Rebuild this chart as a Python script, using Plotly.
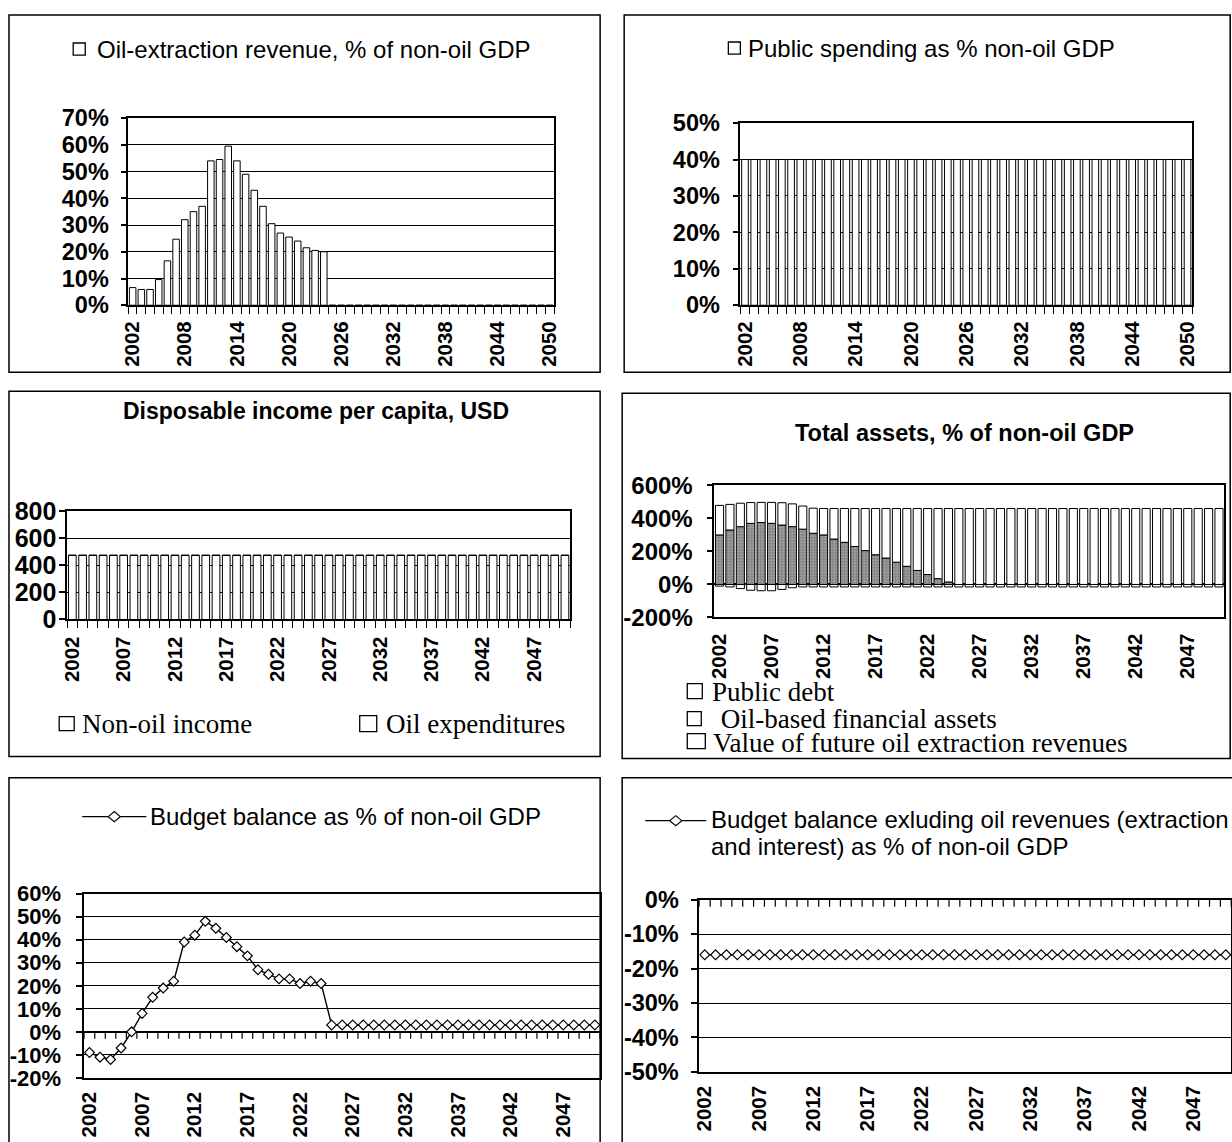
import plotly.graph_objects as go

# ---------------------------------------------------------------- page geometry
# Layout positions below are given in screen pixels; SCREEN_* maps them onto the
# figure (the page shows the figure scaled slightly and inset by the body margin).
SCREEN_SX, SCREEN_SY = 0.987, 0.975
SCREEN_CX, SCREEN_CY = 7.9, 14.0
FW, FH = 1240, 1157

# ---------------------------------------------------------------- data
years = list(range(2002, 2051))

oil_revenue_pct = [6.6, 5.9, 5.9, 9.6, 16.6, 24.7, 32.0, 35.0, 37.0, 54.0, 54.5, 59.5,
                   54.0, 49.0, 43.0, 37.0, 30.5, 27.0, 25.5, 24.0, 21.5, 20.5, 20.0,
                   0, 0, 0, 0, 0, 0, 0, 0, 0, 0, 0, 0, 0,
                   0, 0, 0, 0, 0, 0, 0, 0, 0, 0, 0, 0, 0]

public_spending_pct = [40, 40, 40, 40, 40, 40, 40, 40, 40, 40, 40, 40, 40, 40, 40, 40, 40,
                       40, 40, 40, 40, 40, 40, 40, 40, 40, 40, 40, 40, 40, 40, 40, 40,
                       40, 40, 40, 40, 40, 40, 40, 40, 40, 40, 40, 40, 40, 40, 40, 40]

income_non_oil = [475, 475, 475, 475, 475, 475, 475, 475, 475, 475, 475, 475, 475, 475, 475, 475, 475,
                  475, 475, 475, 475, 475, 475, 475, 475, 475, 475, 475, 475, 475, 475, 475, 475,
                  475, 475, 475, 475, 475, 475, 475, 475, 475, 475, 475, 475, 475, 475, 475, 475]

income_oil_exp = [0, 0, 0, 0, 0, 0, 0, 0, 0, 0, 0, 0, 0, 0, 0, 0, 0,
                  0, 0, 0, 0, 0, 0, 0, 0, 0, 0, 0, 0, 0, 0, 0, 0,
                  0, 0, 0, 0, 0, 0, 0, 0, 0, 0, 0, 0, 0, 0, 0, 0]

public_debt_pct = [-10, -15, -25, -35, -38, -38, -30, -20, -15, -15, -15, -15, -15, -15, -15, -15, -15,
                   -15, -15, -15, -15, -15, -15, -15, -15, -15, -15, -15, -15, -15, -15, -15, -15,
                   -15, -15, -15, -15, -15, -15, -15, -15, -15, -15, -15, -15, -15, -15, -15, -15]

future_oil_value_pct = [300, 330, 350, 370, 375, 370, 360, 350, 335, 310, 300, 275, 255, 230, 205, 180,
                        160, 135, 110, 85, 60, 35, 15,
                        0, 0, 0, 0, 0, 0, 0, 0, 0, 0, 0, 0, 0,
                        0, 0, 0, 0, 0, 0, 0, 0, 0, 0, 0, 0, 0]

oil_fin_assets_pct = [179, 155, 142, 126, 122, 127, 135, 138, 140, 152, 160, 185, 205, 230, 255, 280,
                      300, 325, 350, 375, 400, 425, 445,
                      460, 460, 460, 460, 460, 460, 460, 460, 460, 460, 460, 460, 460,
                      460, 460, 460, 460, 460, 460, 460, 460, 460, 460, 460, 460, 460]

budget_balance_pct = [-9, -11, -12, -7, 0, 8, 15, 19, 22, 39, 42, 48, 45, 41, 37, 33, 27, 25, 23, 23,
                      21, 22, 21,
                      3, 3, 3, 3, 3, 3, 3, 3, 3, 3, 3, 3, 3,
                      3, 3, 3, 3, 3, 3, 3, 3, 3, 3, 3, 3, 3]

budget_ex_oil_pct = [-16, -16, -16, -16, -16, -16, -16, -16, -16, -16, -16, -16, -16, -16, -16, -16, -16,
                     -16, -16, -16, -16, -16, -16, -16, -16, -16, -16, -16, -16, -16, -16, -16, -16,
                     -16, -16, -16, -16, -16, -16, -16, -16, -16, -16, -16, -16, -16, -16, -16, -16]

ticks_oil = [0, 10, 20, 30, 40, 50, 60, 70]
ticks_spend = [0, 10, 20, 30, 40, 50]
ticks_income = [0, 200, 400, 600, 800]
ticks_assets = [-200, 0, 200, 400, 600]
ticks_balance = [-20, -10, 0, 10, 20, 30, 40, 50, 60]
ticks_ex_oil = [-50, -40, -30, -20, -10, 0]

# ---------------------------------------------------------------- geometry helpers
SANS = "Liberation Sans"
SERIF = "Liberation Serif"


def px(x):
    # screen pixel -> paper fraction
    return (x - SCREEN_CX) / SCREEN_SX / FW


def py(y):
    return 1 - (y - SCREEN_CY) / SCREEN_SY / FH


def clamp(v, lo=0.0, hi=1.0):
    return max(lo, min(hi, v))


def dom_x(l, r):
    return [clamp(px(l)), clamp(px(r))]


def dom_y(t, b):
    return [clamp(py(b)), clamp(py(t))]


# plot areas (left, top, right, bottom) in screen pixels
boxes = {
    1: (128, 118, 553, 305),
    2: (739, 123, 1190, 305),
    3: (67, 511, 569, 619),
    4: (713, 485, 1222, 617),
    5: (84, 893, 599, 1077),
    6: (698, 899, 1229, 1071),
}

YEAR_RANGE = [2001.5, 2050.5]
tickfont_x = dict(family=SANS, size=20.5, color="black", weight="bold")


def yfont(size):
    return dict(family=SANS, size=size, color="black", weight="bold")


def pct(vals):
    return [f"{v}%" for v in vals]


def y_axis(n, rng, vals, text, standoff, size, grid=True):
    l, t, r, b = boxes[n]
    return dict(domain=dom_y(t, b), anchor=f"x{n}" if n > 1 else "x", range=rng,
                tickmode="array", tickvals=vals, ticktext=text,
                ticks="outside", ticklen=6, tickwidth=1.5, tickcolor="black",
                showline=True, linecolor="black", linewidth=1.6, mirror=True,
                showgrid=grid, gridcolor="black", gridwidth=1,
                zeroline=False, tickfont=yfont(size),
                ticklabelstandoff=standoff, fixedrange=True)


def x_axis(n, dtick, standoff, minor_ticks=True):
    l, t, r, b = boxes[n]
    ax = dict(domain=dom_x(l, r), anchor=f"y{n}" if n > 1 else "y", range=YEAR_RANGE,
              tickmode="linear", tick0=2002, dtick=dtick, ticks="", tickangle=-90,
              showline=True, linecolor="black", linewidth=1.6, mirror=True,
              showgrid=False, zeroline=False, tickfont=tickfont_x,
              ticklabelstandoff=standoff, fixedrange=True)
    if minor_ticks:
        ax["minor"] = dict(tick0=2001.5, dtick=1, ticks="outside", ticklen=7,
                           tickwidth=1.2, tickcolor="black", showgrid=False)
    return ax


white_bar = dict(color="white", line=dict(color="black", width=1))

fig = go.Figure()

# 1 - oil-extraction revenue
fig.add_trace(go.Bar(x=years, y=oil_revenue_pct, width=0.75, marker=white_bar,
                     xaxis="x", yaxis="y", name="Oil-extraction revenue, % of non-oil GDP"))

# 2 - public spending
fig.add_trace(go.Bar(x=years, y=public_spending_pct, width=0.72, marker=white_bar,
                     xaxis="x2", yaxis="y2", name="Public spending as % non-oil GDP"))

# 3 - disposable income per capita (stacked)
fig.add_trace(go.Bar(x=years, y=income_non_oil, width=0.75, marker=white_bar,
                     xaxis="x3", yaxis="y3", name="Non-oil income"))
fig.add_trace(go.Bar(x=years, y=income_oil_exp, width=0.75, marker=white_bar,
                     xaxis="x3", yaxis="y3", name="Oil expenditures"))

# 4 - total assets (stacked)
fig.add_trace(go.Bar(x=years, y=public_debt_pct, width=0.78, marker=white_bar,
                     xaxis="x4", yaxis="y4", name="Public debt"))
fig.add_trace(go.Bar(x=years, y=future_oil_value_pct, width=0.78,
                     marker=dict(color="white", line=dict(color="black", width=1),
                                 pattern=dict(shape=".", fgcolor="black", bgcolor="white",
                                              size=3, solidity=0.8)),
                     xaxis="x4", yaxis="y4", name="Value of future oil extraction revenues"))
fig.add_trace(go.Bar(x=years, y=oil_fin_assets_pct, width=0.78, marker=white_bar,
                     xaxis="x4", yaxis="y4", name="Oil-based financial assets"))

# 5 / 6 - budget balance lines
diamond = dict(symbol="diamond", size=7.5, color="white", line=dict(color="black", width=1.2))
fig.add_trace(go.Scatter(x=years, y=budget_balance_pct, mode="lines+markers",
                         line=dict(color="black", width=1.4), marker=diamond,
                         xaxis="x5", yaxis="y5", name="Budget balance as % of non-oil GDP"))
fig.add_trace(go.Scatter(x=years, y=budget_ex_oil_pct, mode="lines+markers",
                         line=dict(color="black", width=1.4), marker=diamond,
                         xaxis="x6", yaxis="y6",
                         name="Budget balance exluding oil revenues (extraction and interest) as % of non-oil GDP"))

fig.update_layout(
    xaxis=x_axis(1, 6, standoff=6),
    yaxis=y_axis(1, [0, 70], ticks_oil, pct(ticks_oil), standoff=7, size=23.5),
    xaxis2=x_axis(2, 6, standoff=6),
    yaxis2=y_axis(2, [0, 50], ticks_spend, pct(ticks_spend), standoff=8, size=23.5),
    xaxis3=x_axis(3, 5, standoff=7),
    yaxis3=y_axis(3, [0, 800], ticks_income, [str(v) for v in ticks_income], standoff=-2, size=25),
    xaxis4=x_axis(4, 5, standoff=6, minor_ticks=False),
    yaxis4=y_axis(4, [-200, 600], ticks_assets, pct(ticks_assets), standoff=9, size=24, grid=False),
    xaxis5=x_axis(5, 5, standoff=4, minor_ticks=False),
    yaxis5=y_axis(5, [-20, 60], ticks_balance, pct(ticks_balance), standoff=11, size=22),
    xaxis6=x_axis(6, 5, standoff=4, minor_ticks=False),
    yaxis6=y_axis(6, [-50, 0], ticks_ex_oil, pct(ticks_ex_oil), standoff=8, size=23.5),
)
fig.update_layout(yaxis4=dict(zeroline=True, zerolinecolor="black", zerolinewidth=1.5),
                  yaxis5=dict(zeroline=True, zerolinecolor="black", zerolinewidth=1.5))

# ---------------------------------------------------------------- frames, legend keys, titles
shapes = []

# category-boundary tick marks hanging from the zero line of the line charts
bounds = [y - 0.5 for y in years] + [years[-1] + 0.5]
for xr, yr in (("x5", "y5"), ("x6", "y6")):
    for b in bounds:
        shapes.append(dict(type="line", xref=xr, yref=yr, x0=b, x1=b,
                           ysizemode="pixel", yanchor=0, y0=0, y1=-7,
                           line=dict(color="black", width=1.2), layer="above"))


def rect(l, t, r, b, w=1.5, fill=None, open_end=False):
    ex, ey = 1 / FW, 1 / FH
    x0, x1 = clamp(px(l), ex, 1 - ex), px(r)
    y1 = clamp(py(t), ey, 1 - ey)
    y0 = py(b)
    if not open_end:
        x1 = clamp(x1, ex, 1 - ex)
        y0 = clamp(y0, ey, 1 - ey)
    shapes.append(dict(type="rect", xref="paper", yref="paper", x0=x0, x1=x1, y0=y0, y1=y1,
                       line=dict(color="black", width=w),
                       fillcolor=fill or "rgba(0,0,0,0)", layer="above"))


# chart frames (the lower pair runs on past the bottom edge)
rect(7, 3, 599, 372)
rect(623, 3, 1228, 372)
rect(7, 391, 599, 756)
rect(621, 393, 1228, 758)
rect(7, 777, 599, 1300, open_end=True)
rect(621, 777, 1400, 1300, open_end=True)

# bar legend keys
rect(73, 43, 85, 55, w=1.3, fill="white")
rect(727, 42, 739, 54, w=1.3, fill="white")
rect(59, 716, 74, 730, w=1.3, fill="white")
rect(359, 715, 376, 731, w=1.3, fill="white")
rect(686, 683, 701, 698, w=1.3, fill="white")
rect(686, 711, 700, 725, w=1.3, fill="white")
rect(686, 733, 704, 748, w=1.3, fill="white")


def line_key(x0, x1, y):
    shapes.append(dict(type="line", xref="paper", yref="paper", x0=px(x0), x1=px(x1),
                       y0=py(y), y1=py(y), line=dict(color="black", width=1.4), layer="above"))
    cx = (x0 + x1) / 2
    path = (f"M {px(cx - 6)},{py(y)} L {px(cx)},{py(y - 5)} L {px(cx + 6)},{py(y)} "
            f"L {px(cx)},{py(y + 5)} Z")
    shapes.append(dict(type="path", xref="paper", yref="paper", path=path,
                       line=dict(color="black", width=1.2), fillcolor="white", layer="above"))


line_key(82, 146, 816)
line_key(644, 705, 820)

annotations = []


def label(text, x, y, size=24, family=SANS, anchor="left", bold=False):
    annotations.append(dict(text=text, xref="paper", yref="paper", x=px(x), y=py(y),
                            xanchor=anchor, yanchor="middle", showarrow=False,
                            font=dict(family=family, size=size, color="black",
                                      weight="bold" if bold else "normal")))


label("Oil-extraction revenue, % of non-oil GDP", 95, 49)
label("Public spending as % non-oil GDP", 745, 48)
label("Disposable income per capita, USD", 315, 411, size=23, anchor="center", bold=True)
label("Non-oil income", 80, 723, size=27, family=SERIF)
label("Oil expenditures", 383, 723, size=27, family=SERIF)
label("Total assets, % of non-oil GDP", 963, 433, size=23.5, anchor="center", bold=True)
label("Public debt", 709, 691, size=27, family=SERIF)
label(" Oil-based financial assets", 711, 718, size=27, family=SERIF)
label("Value of future oil extraction revenues", 710, 742, size=27, family=SERIF)
label("Budget balance as % of non-oil GDP", 148, 816)
label("Budget balance exluding oil revenues (extraction", 708, 819)
label("and interest) as % of non-oil GDP", 708, 846)

fig.update_layout(
    width=FW, height=FH, autosize=False,
    margin=dict(l=0, r=0, t=0, b=0, pad=0),
    paper_bgcolor="white", plot_bgcolor="white",
    barmode="relative", showlegend=False,
    shapes=shapes, annotations=annotations,
)

fig.write_html("out.html", config={"displayModeBar": False})
